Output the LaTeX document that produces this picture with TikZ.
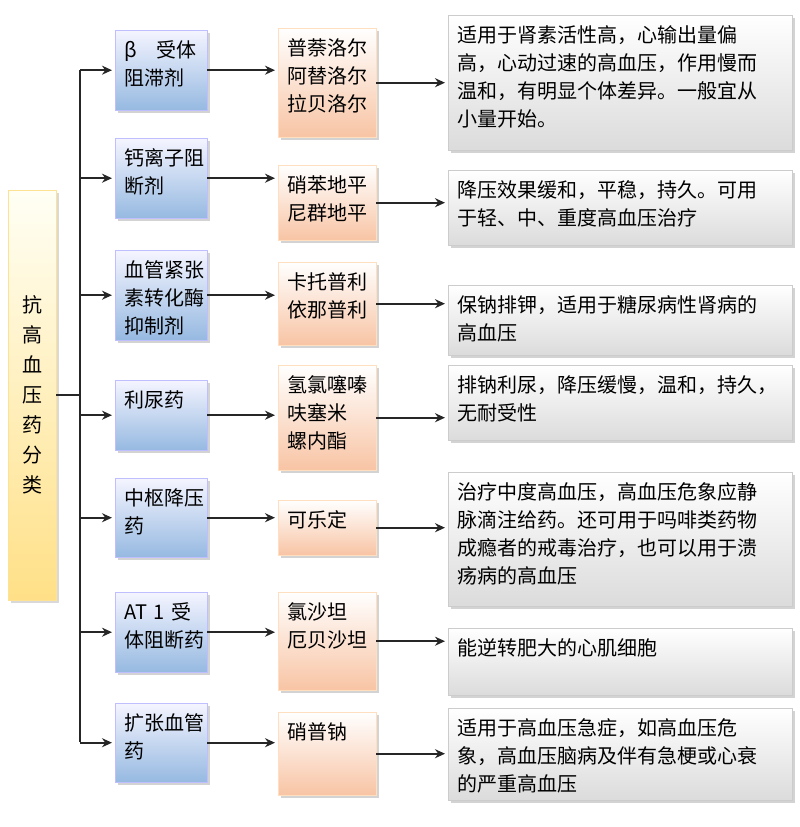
\documentclass[tikz,border=0pt]{standalone}
\usepackage{fontspec}
\setmainfont{Noto Sans CJK SC}
\usetikzlibrary{arrows,arrows.meta,shadows}

% box at top-left corner (x,y), width w, height h
\newcommand\bx[7]{\node[#6,anchor=north west,inner xsep=9pt,inner ysep=10pt,
  text width=\dimexpr#4pt-18pt\relax,text height=17pt,
  text depth=\dimexpr#5pt-37pt\relax] (#1) at (#2,-#3) {#7};}

\begin{document}
\begin{tikzpicture}[x=1pt,y=1pt,>={Stealth[length=10pt,width=9pt]},
% box styles
    every node/.style={font=\fontsize{20}{28}\selectfont,align=left},
    kind/.style={draw=blue!25,top color=blue!4,bottom color={rgb,255:red,150;green,185;blue,225},
		drop shadow={opacity=0.35}},
    drug/.style={draw=orange!25,top color=white,bottom color={rgb,255:red,248;green,196;blue,164},
		drop shadow={opacity=0.35}},
    note/.style={draw=gray!40,top color=white,bottom color=gray!28,
		drop shadow={opacity=0.35}},
    root/.style={draw=yellow!50!orange!40,top color=yellow!4,
		bottom color={rgb,255:red,255;green,224;blue,135},drop shadow={opacity=0.3}},
    link/.style={line width=1.8pt,black!85},
    ]
\useasboundingbox (0,0) rectangle (800,-827);
%% root
   \node[root,anchor=north west,minimum width=48pt,minimum height=410pt,
	align=center,inner sep=0pt,font=\fontsize{20}{30}\selectfont] (cls) at (8,-190)
	{抗\\高\\血\\压\\药\\分\\类};
%% drug kinds
   \bx{k1}{115}{30}{92}{80}{kind}{β　受体\\阻滞剂}
   \bx{k2}{115}{138}{92}{80}{kind}{钙离子阻\\断剂}
   \bx{k3}{115}{250}{92}{90}{kind}{血管紧张\\素转化酶\\抑制剂}
   \bx{k4}{115}{380}{92}{70}{kind}{利尿药}
   \bx{k5}{115}{478}{92}{79}{kind}{中枢降压\\药}
   \bx{k6}{115}{592}{92}{80}{kind}{AT 1 受\\体阻断药}
   \bx{k7}{115}{703}{92}{79}{kind}{扩张血管\\药}
%% drugs
   \bx{d1}{278}{28}{98}{109}{drug}{普萘洛尔\\阿替洛尔\\拉贝洛尔}
   \bx{d2}{278}{165}{98}{75}{drug}{硝苯地平\\尼群地平}
   \bx{d3}{278}{262}{98}{83}{drug}{卡托普利\\依那普利}
   \bx{d4}{278}{365}{98}{105}{drug}{氢氯噻嗪\\呋塞米\\螺内酯}
   \bx{d5}{278}{500}{98}{55}{drug}{可乐定}
   \bx{d6}{278}{592}{98}{98}{drug}{氯沙坦\\厄贝沙坦}
   \bx{d7}{278}{712}{98}{83}{drug}{硝普钠}
%% notes
   \bx{n1}{448}{15}{344}{135}{note}{适用于肾素活性高，心输出量偏\\高，心动过速的高血压，作用慢而\\温和，有明显个体差异。一般宜从\\小量开始。}
   \bx{n2}{448}{170}{344}{75}{note}{降压效果缓和，平稳，持久。可用\\于轻、中、重度高血压治疗}
   \bx{n3}{448}{285}{344}{70}{note}{保钠排钾，适用于糖尿病性肾病的\\高血压}
   \bx{n4}{448}{365}{344}{75}{note}{排钠利尿，降压缓慢，温和，持久，\\无耐受性}
   \bx{n5}{448}{472}{344}{134}{note}{治疗中度高血压，高血压危象应静\\脉滴注给药。还可用于吗啡类药物\\成瘾者的戒毒治疗，也可以用于溃\\疡病的高血压}
   \bx{n6}{448}{628}{344}{67}{note}{能逆转肥大的心肌细胞}
   \bx{n7}{448}{708}{344}{92}{note}{适用于高血压急症，如高血压危\\象，高血压脑病及伴有急梗或心衰\\的严重高血压}
%% trunk and arrows
   \coordinate (top) at (80,-70);
   \coordinate (bot) at (80,-742);
   \draw[link] (top) -- (bot);
   \draw[link] (cls.east) -- (cls.east -| top);
   \foreach \i in {1,...,7} {
     \draw[link,->,shorten >=3pt] (k\i.west -| top) -- (k\i.west);
     \draw[link,->,shorten >=3pt] (k\i.east) -- (d\i.west |- k\i.east);
     \draw[link,->,shorten >=3pt] (d\i.east) -- (n\i.west |- d\i.east);
   }
\end{tikzpicture}
\end{document}
